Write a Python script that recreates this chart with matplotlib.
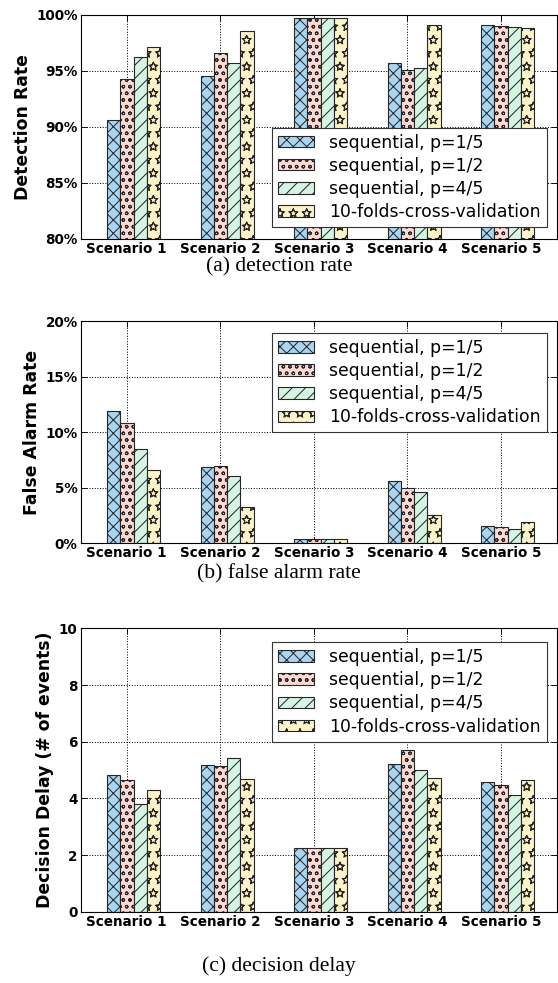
import numpy as np
import matplotlib
matplotlib.use("Agg")
import matplotlib.pyplot as plt
import matplotlib.hatch
from matplotlib.ticker import FuncFormatter

scenarios = ["Scenario 1", "Scenario 2", "Scenario 3", "Scenario 4", "Scenario 5"]
methods = ["sequential, p=1/5", "sequential, p=1/2", "sequential, p=4/5",
           "10-folds-cross-validation"]

# detection rate (%)
det_p15 = [90.6, 94.55, 99.75, 95.7, 99.1]
det_p12 = [94.3, 96.6, 99.75, 95.1, 98.97]
det_p45 = [96.25, 95.7, 99.75, 95.3, 98.9]
det_cv = [97.1, 98.55, 99.75, 99.1, 98.87]

# false alarm rate (%)
far_p15 = [11.9, 6.85, 0.33, 5.6, 1.53]
far_p12 = [10.8, 6.94, 0.33, 4.96, 1.46]
far_p45 = [8.47, 6.04, 0.33, 4.6, 1.28]
far_cv = [6.6, 3.2, 0.33, 2.5, 1.86]

# decision delay (# of events)
dd_p15 = [4.81, 5.17, 2.25, 5.2, 4.59]
dd_p12 = [4.66, 5.14, 2.25, 5.72, 4.46]
dd_p45 = [3.79, 5.41, 2.26, 4.99, 4.12]
dd_cv = [4.28, 4.67, 2.25, 4.73, 4.65]

colors = ["#a9d5f2", "#fdd9d4", "#d5f4e4", "#fcf3ca"]
hatches = ["xx", "oo", "//", "*"]

# hollow stars like the old hatch style
matplotlib.hatch.Stars.filled = False
plt.rcParams["hatch.linewidth"] = 0.9

DPI = 80


def draw_panel(ax, series, ylim, yticks, ylabel, fmt):
    ind = np.arange(len(scenarios))
    width = 0.142
    for k, vals in enumerate(series):
        ax.bar(ind - 0.139 + k * width, vals, width, color=colors[k],
               hatch=hatches[k], edgecolor="0.15", linewidth=1.0,
               label=methods[k], zorder=2)
    ax.set_xlim(-0.49, 4.6)
    ax.set_ylim(*ylim)
    ax.set_yticks(yticks)
    ax.yaxis.set_major_formatter(FuncFormatter(fmt))
    ax.set_xticks(ind)
    ax.set_xticklabels(scenarios, fontweight="bold", fontsize=12.2)
    for t in ax.get_yticklabels():
        t.set_fontweight("bold")
        t.set_fontsize(12.2)
    ax.set_ylabel(ylabel, fontweight="bold", fontsize=15.5)
    ax.grid(True, linestyle=":", color="black", linewidth=0.9, zorder=0)
    ax.set_axisbelow(True)
    ax.tick_params(direction="in", top=True, right=True, length=5, pad=3)
    for s in ax.spines.values():
        s.set_linewidth(1.0)


def add_legend(ax, loc, anchor):
    ax.legend(loc=loc, bbox_to_anchor=anchor, fontsize=15.5,
              handlelength=2.05, handleheight=0.65, handletextpad=0.9,
              labelspacing=0.3, borderpad=0.35, borderaxespad=0.3,
              fancybox=False, edgecolor="0.2", framealpha=1)


fig = plt.figure(figsize=(558 / DPI, 983 / DPI), dpi=DPI)

ax1 = fig.add_axes([0.145, 0.7569, 0.853, 0.2279])
draw_panel(ax1, [det_p15, det_p12, det_p45, det_cv], (80, 100),
           [80, 85, 90, 95, 100], "Detection Rate",
           lambda v, p: "%d%%" % v)
add_legend(ax1, "lower right", (0.99, 0.03))

ax2 = fig.add_axes([0.145, 0.4476, 0.853, 0.2258])
draw_panel(ax2, [far_p15, far_p12, far_p45, far_cv], (0, 20),
           [0, 5, 10, 15, 20], "False Alarm Rate",
           lambda v, p: "%d%%" % v)
add_legend(ax2, "upper right", (0.99, 0.97))

ax3 = fig.add_axes([0.145, 0.0724, 0.853, 0.2884])
draw_panel(ax3, [dd_p15, dd_p12, dd_p45, dd_cv], (0, 10),
           [0, 2, 4, 6, 8, 10], "Decision Delay (# of events)",
           lambda v, p: "%d" % v)
add_legend(ax3, "upper right", (0.99, 0.97))

cap = dict(ha="center", va="center", fontsize=19.5, family="Liberation Serif")
fig.text(0.5, 1 - 267 / 983, "(a) detection rate", **cap)
fig.text(0.5, 1 - 574 / 983, "(b) false alarm rate", **cap)
fig.text(0.5, 1 - 966 / 983, "(c) decision delay", **cap)

fig.savefig("out.png", dpi=DPI)
